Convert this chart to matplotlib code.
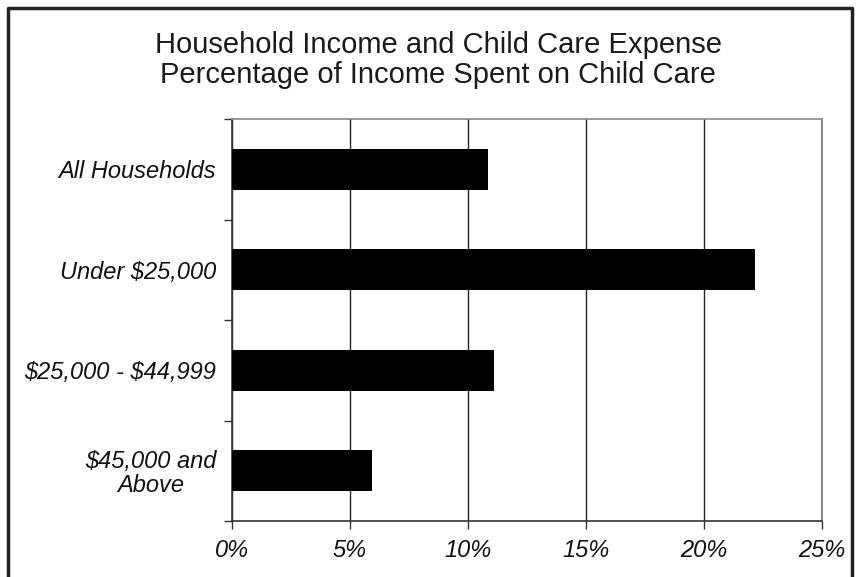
import matplotlib
matplotlib.use("Agg")
import matplotlib.pyplot as plt
from matplotlib.ticker import FuncFormatter

categories = ["All Households", "Under \\$25,000", "\\$25,000 - \\$44,999", "\\$45,000 and\nAbove"]
pct_of_income = [10.85, 22.15, 11.1, 5.95]
x_ticks = [0, 5, 10, 15, 20, 25]

plt.rcParams["font.family"] = ["Liberation Sans", "DejaVu Sans"]

fig = plt.figure(figsize=(8.61, 5.77), dpi=100)
ax = fig.add_axes([232 / 861, 1 - 521 / 577, (822 - 232) / 861, (521 - 119) / 577])

pos = list(range(len(categories)))
ax.barh(pos, pct_of_income, height=0.41, color="black", zorder=3)
ax.set_ylim(len(categories) - 0.5, -0.5)
ax.set_xlim(0, 25)

ax.set_xticks(x_ticks)
ax.xaxis.set_major_formatter(FuncFormatter(lambda v, _: f"{v:.0f}%"))
ax.set_yticks([p - 0.5 for p in pos] + [len(categories) - 0.5])
ax.set_yticklabels([])
ax.set_yticks(pos, minor=True)
ax.set_yticklabels(categories, minor=True, fontstyle="italic", fontsize=17,
                   multialignment="center", color="#111111", linespacing=1.05)
ax.tick_params(axis="y", which="minor", length=0, pad=11.5)
ax.tick_params(axis="y", which="major", length=6, width=1, color="#333333", direction="out")
ax.tick_params(axis="x", length=6, width=1, color="#333333", direction="out", pad=7,
               labelsize=17, labelcolor="#111111")
for lbl in ax.get_xticklabels():
    lbl.set_fontstyle("italic")

ax.grid(axis="x", color="#222222", linewidth=1, zorder=0)
ax.spines["left"].set_color("#333333")
ax.spines["bottom"].set_color("#333333")
ax.spines["top"].set_color("#888888")
ax.spines["right"].set_color("#777777")
for s in ax.spines.values():
    s.set_linewidth(1.2)

fig.text(438 / 861, 1 - 45 / 577, "Household Income and Child Care Expense",
         ha="center", va="center", fontsize=21, color="#1a1a1a")
fig.text(438 / 861, 1 - 75 / 577, "Percentage of Income Spent on Child Care",
         ha="center", va="center", fontsize=21, color="#1a1a1a")

# outer frame (open at the bottom)
fig.add_artist(plt.Line2D([8 / 861, 8 / 861, 852 / 861, 852 / 861],
                          [0, 1 - 8 / 577, 1 - 8 / 577, 0],
                          transform=fig.transFigure, color="#222222", linewidth=2.5))

fig.savefig("out.png", dpi=100)
